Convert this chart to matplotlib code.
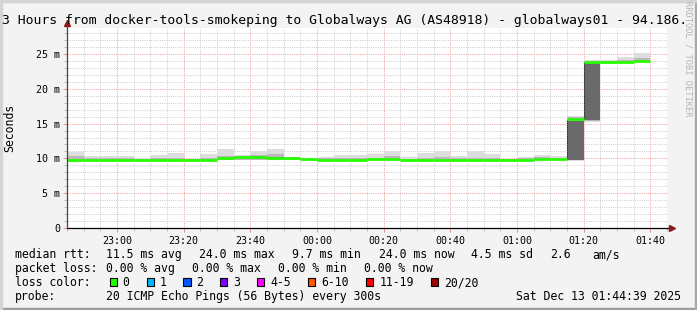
import numpy as np
import matplotlib
matplotlib.use("Agg")
import matplotlib.pyplot as plt
from matplotlib.patches import Rectangle
from matplotlib.ticker import MultipleLocator, FixedLocator

# 5 minute intervals, minutes relative to 23:00 (first one starts 22:45)
t_start = np.arange(-15, 160, 5)

median_ms = [9.8, 9.8, 9.8, 9.8, 9.8, 9.8, 9.8, 9.8, 9.8, 10.0,
             10.2, 10.2, 10.1, 10.1, 9.9, 9.8, 9.8, 9.8, 9.9, 9.9,
             9.8, 9.8, 9.8, 9.8, 9.8, 9.8, 9.8, 9.8, 9.9, 9.9,
             15.6, 23.8, 23.8, 23.9, 24.0]

# outer smoke envelope (light)
smoke_lo = [9.7] * 30 + [9.6, 15.2, 23.6, 23.7, 23.8]
smoke_hi = [10.9, 10.4, 10.4, 10.3, 10.05, 10.5, 10.8, 9.95, 10.6, 11.4,
            10.5, 11.1, 11.4, 10.1, 9.95, 10.25, 10.45, 10.5, 10.7, 11.1,
            10.15, 10.8, 11.1, 10.3, 11.1, 10.7, 9.95, 10.25, 10.5, 10.4,
            16.1, 24.2, 24.1, 24.6, 25.1]

# inner smoke (mid grey)
mid_lo = [9.75] * 30 + [9.7, 15.4, 23.7, 23.8, 23.9]
mid_hi = [10.3, 10.0, 10.0, 10.0, 9.9, 10.1, 10.1, 9.9, 10.0, 10.4,
          10.3, 10.5, 10.6, 10.2, 9.9, 10.0, 10.1, 10.1, 10.1, 10.3,
          9.95, 10.1, 10.2, 10.0, 10.1, 10.1, 9.9, 10.1, 10.2, 10.1,
          15.9, 24.0, 23.95, 24.2, 24.4]

# core smoke (dark grey)
dark_lo = {12: 9.95, 30: 9.8, 31: 15.5}
dark_hi = {12: 10.25, 30: 15.4, 31: 23.7}

x_ticks = [0, 20, 40, 60, 80, 100, 120, 140, 160]
x_labels = ["23:00", "23:20", "23:40", "00:00", "00:20", "00:40", "01:00", "01:20", "01:40"]
y_ticks = [0, 5, 10, 15, 20, 25]
y_labels = ["0", "5 m", "10 m", "15 m", "20 m", "25 m"]

loss_labels = ["0", "1", "2", "3", "4-5", "6-10", "11-19", "20/20"]
loss_colors = ["#26ff00", "#00b8ff", "#0059ff", "#7e00ff", "#ff00ff", "#ff5500", "#ff0000", "#a10000"]

# legend pieces: (text, left pixel)
rtt_items = [("median rtt:", 16), ("11.5 ms avg", 107.3), ("24.0 ms max", 200), ("9.7 ms min", 292.7),
             ("24.0 ms now", 379.3), ("4.5 ms sd", 471.7), ("2.6", 551), ("am/s", 592.7)]
loss_items = [("packet loss:", 16), ("0.00 % avg", 107.3), ("0.00 % max", 193.3),
              ("0.00 % min", 279.3), ("0.00 % now", 365)]
box_x = [109, 146, 183, 219.5, 256.5, 307.7, 365.7, 430.7]

W, H = 697, 310
MONO = "DejaVu Sans Mono"
plt.rcParams["font.family"] = MONO


def fx(x):
    return x / W


def fy(y):
    return 1 - y / H


fig = plt.figure(figsize=(W / 100, H / 100), dpi=100, facecolor="#f3f3f3")

# 3d-ish frame
fig.patches.append(Rectangle((0, 0), 1, 2 / H, transform=fig.transFigure, color="#9c9c9c", zorder=0))
fig.patches.append(Rectangle((1 - 2 / W, 0), 2 / W, 1, transform=fig.transFigure, color="#a8a8a8", zorder=0))
fig.patches.append(Rectangle((0, 1 - 2 / H), 1, 2 / H, transform=fig.transFigure, color="#d4d4d4", zorder=0))
fig.patches.append(Rectangle((0, 0), 2 / W, 1, transform=fig.transFigure, color="#d4d4d4", zorder=0))

ax = fig.add_axes([fx(67), fy(228), fx(600), 200 / H])
ax.set_facecolor("white")
ax.set_xlim(-15, 165)
ax.set_ylim(0, 200 / 6.96)

lo = np.array(smoke_lo)
hi = np.array(smoke_hi)
ax.bar(t_start, hi - lo, bottom=lo, width=5, align="edge", color="#dddddd", linewidth=0, zorder=1)
mlo = np.array(mid_lo)
mhi = np.array(mid_hi)
ax.bar(t_start, mhi - mlo, bottom=mlo, width=5, align="edge", color="#b9b9b9", linewidth=0, zorder=1.1)
idx = sorted(dark_lo)
dl = np.array([dark_lo[i] for i in idx])
dh = np.array([dark_hi[i] for i in idx])
ax.bar(t_start[idx], dh - dl, bottom=dl, width=5, align="edge", color="#6a6a6a", linewidth=0, zorder=1.2)

# grid (below the smoke)
ax.xaxis.set_major_locator(FixedLocator(x_ticks))
ax.xaxis.set_minor_locator(MultipleLocator(5))
ax.yaxis.set_major_locator(FixedLocator(y_ticks))
ax.yaxis.set_minor_locator(MultipleLocator(1))
ax.set_axisbelow(True)
ax.grid(which="minor", color="#cfcfcf", linestyle=(0, (1, 1.2)), linewidth=0.72)
ax.grid(which="major", color="#f2a0a0", linestyle=(0, (1, 1.2)), linewidth=0.72)

# median line
med = np.array(median_ms)
for i in range(1, len(med)):
    if abs(med[i] - med[i - 1]) > 1:
        ax.vlines(t_start[i], med[i - 1], med[i], color="#222222", linewidth=0.8,
                  linestyle=(0, (1, 1)), zorder=2.8)
ax.hlines(med, t_start, t_start + 5, color=loss_colors[0], linewidth=2.0, zorder=3)

ax.set_xticks(x_ticks)
ax.set_xticklabels(x_labels)
ax.set_yticks(y_ticks)
ax.set_yticklabels(y_labels)
ax.tick_params(which="major", length=3, width=0.7, color="#e09090", labelsize=7.2, pad=2)
ax.tick_params(which="minor", length=2, width=0.7, color="#bbbbbb")
ax.tick_params(axis="x", which="major", pad=3)

for s in ax.spines.values():
    s.set_visible(False)

# axes with arrows
ax.plot([0, 605 / 600], [0, 0], transform=ax.transAxes, color="black", linewidth=0.9, clip_on=False, zorder=4)
ax.plot([605 / 600], [0], transform=ax.transAxes, marker=">", markersize=4.5, color="#8b1a1a", clip_on=False, zorder=5)
ax.plot([0, 0], [0, 1.025], transform=ax.transAxes, color="#444444", linewidth=0.9, clip_on=False, zorder=4)
ax.plot([0], [1.025], transform=ax.transAxes, marker="^", markersize=4.5, color="#8b1a1a", clip_on=False, zorder=5)

fig.text(fx(10), fy(128), "Seconds", rotation=90, ha="center", va="center", fontsize=8.3, family=MONO)

fig.text(fx(2), fy(24), "3 Hours from docker-tools-smokeping to Globalways AG (AS48918) - globalways01 - 94.186.",
         ha="left", va="baseline", fontsize=9.45, family=MONO)

fig.text(fx(688), fy(59), "RRDTOOL / TOBI OETIKER", rotation=270, ha="center", va="center",
         fontsize=6.3, color="#b4b4b4", family=MONO)

# legend
LS = 8.3
for txt, x in rtt_items:
    fig.text(fx(x - 0.8), fy(258), txt, ha="left", va="baseline", fontsize=LS, family=MONO)
for txt, x in loss_items:
    fig.text(fx(x - 0.8), fy(272), txt, ha="left", va="baseline", fontsize=LS, family=MONO)
fig.text(fx(15.2), fy(286), "loss color:", ha="left", va="baseline", fontsize=LS, family=MONO)
for bx, lab, col in zip(box_x, loss_labels, loss_colors):
    fig.patches.append(Rectangle((fx(bx + 0.5), fy(286.3)), 7 / W, 8 / H, transform=fig.transFigure,
                                 facecolor=col, edgecolor="black", linewidth=0.8))
    fig.text(fx(bx + 13.5), fy(286), lab, ha="left", va="baseline", fontsize=LS, family=MONO)
fig.text(fx(15.2), fy(300), "probe:", ha="left", va="baseline", fontsize=LS, family=MONO)
fig.text(fx(106.5), fy(300), "20 ICMP Echo Pings (56 Bytes) every 300s", ha="left", va="baseline",
         fontsize=LS, family=MONO)
fig.text(fx(681), fy(300), "Sat Dec 13 01:44:39 2025", ha="right", va="baseline", fontsize=LS, family=MONO)

fig.savefig("out.png", dpi=100, facecolor=fig.get_facecolor())
